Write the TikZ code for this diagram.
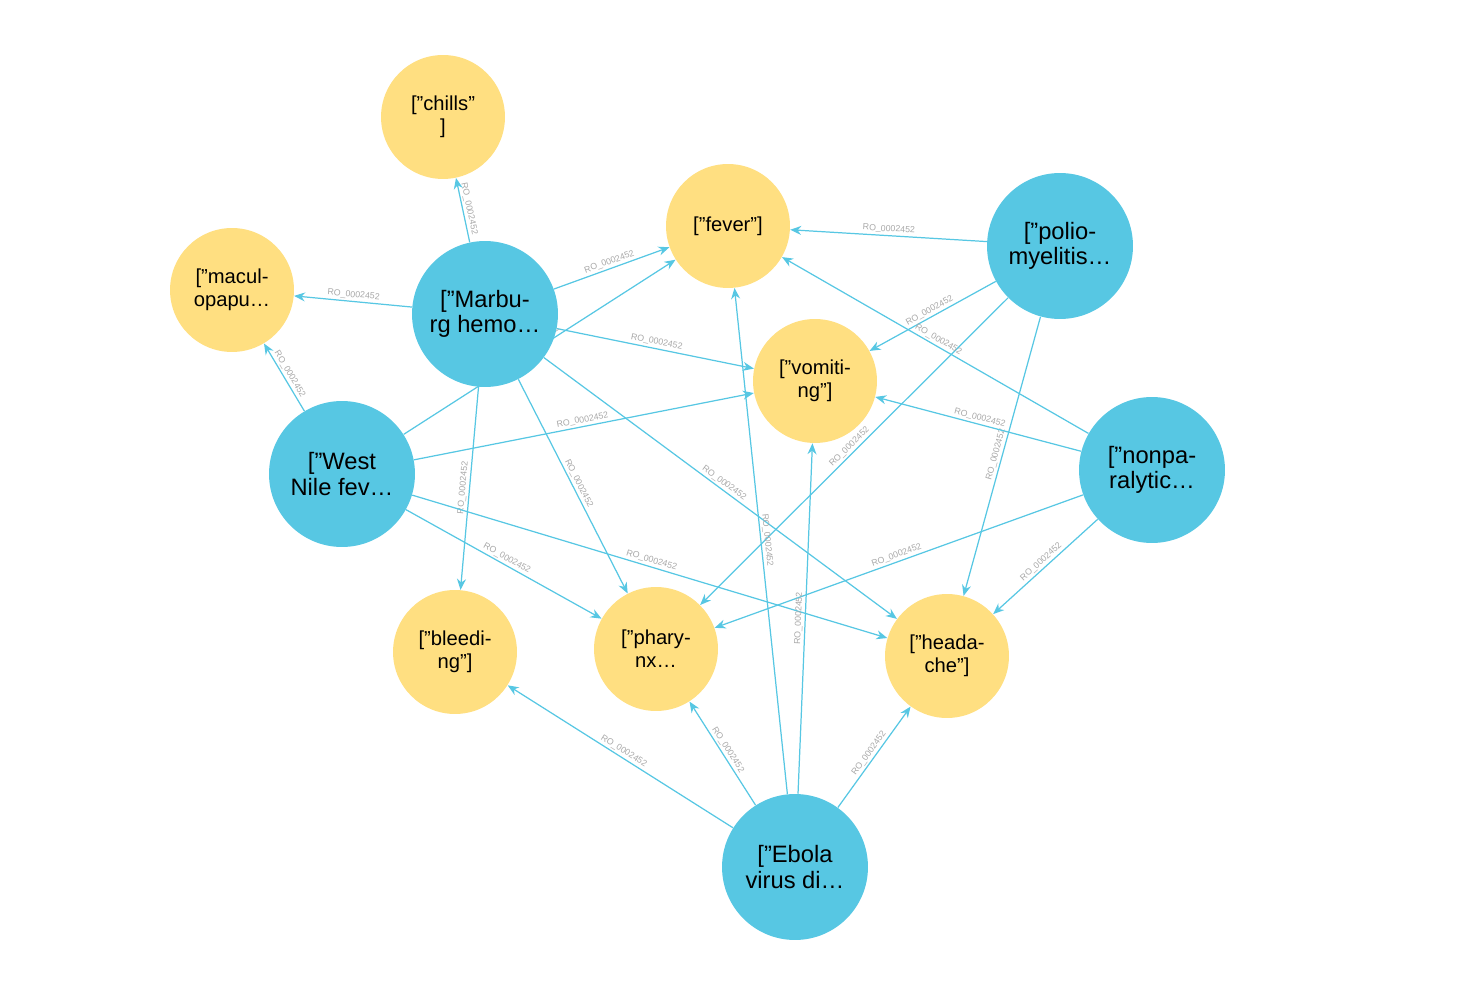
\documentclass[tikz,border=0pt]{standalone}
\usepackage{fontspec}
\setmainfont{Liberation Sans}[Ligatures=ResetAll]
\usetikzlibrary{arrows.meta, positioning, backgrounds}
\definecolor{diseaseblue}{HTML}{57C7E3}
\definecolor{symptomyellow}{HTML}{FFDF81}
\definecolor{labelgray}{HTML}{A8A8A8}
\newcommand{\dq}{"}
\begin{document}
\begin{tikzpicture}[
    x=0.02cm, y=-0.02cm,
    disease/.style={circle, fill=diseaseblue, minimum size=2.92cm, inner sep=0pt, align=center, font=\fontsize{13.5}{14.5}\selectfont},
    symptom/.style={circle, fill=symptomyellow, minimum size=2.48cm, inner sep=0pt, align=center, font=\fontsize{11.5}{13}\selectfont},
    rel/.style={-{Stealth[length=2.2mm, width=1.8mm]}, diseaseblue, line width=0.7pt},
    rellabel/.style={font=\fontsize{5}{6}\selectfont, text=labelgray, sloped, above, inner sep=1pt},
]
    \useasboundingbox (0,0) rectangle (1464,996);

    % Symptoms
    \node[symptom] (chills) at (443,117) {[\dq chills\dq\\]};
    \node[symptom] (fever) at (728,226) {[\dq fever\dq]};
    \node[symptom] (macul) at (232,290) {[\dq macul-\\opapu\dots};
    \node[symptom] (vomiting) at (815,381) {[\dq vomiti-\\ng\dq]};
    \node[symptom] (bleeding) at (455,652) {[\dq bleedi-\\ng\dq]};
    \node[symptom] (pharynx) at (656,649) {[\dq phary-\\nx\dots};
    \node[symptom] (headache) at (947,656) {[\dq heada-\\che\dq]};

    % Diseases
    \node[disease] (marburg) at (485,314) {[\dq Marbu-\\rg hemo\dots};
    \node[disease] (westnile) at (342,474) {[\dq West\\Nile fev\dots};
    \node[disease] (polio) at (1060,246) {[\dq polio-\\myelitis\dots};
    \node[disease] (nonpara) at (1152,470) {[\dq nonpa-\\ralytic\dots};
    \node[disease] (ebola) at (795,867) {[\dq Ebola\\virus di\dots};

    % Relations, behind the circles
    \begin{scope}[on background layer]
    \foreach \src/\dst in {
        marburg/chills, marburg/macul, marburg/fever, marburg/vomiting,
        marburg/bleeding, marburg/pharynx, marburg/headache,
        westnile/macul, westnile/fever, westnile/vomiting, westnile/pharynx, westnile/headache,
        polio/fever, polio/vomiting, polio/pharynx, polio/headache,
        nonpara/fever, nonpara/vomiting, nonpara/pharynx, nonpara/headache,
        ebola/bleeding, ebola/pharynx, ebola/fever, ebola/vomiting, ebola/headache}
        \draw[rel] (\src) -- (\dst) node[rellabel, pos=0.5] {RO\_0002452};
    \end{scope}
\end{tikzpicture}
\end{document}
